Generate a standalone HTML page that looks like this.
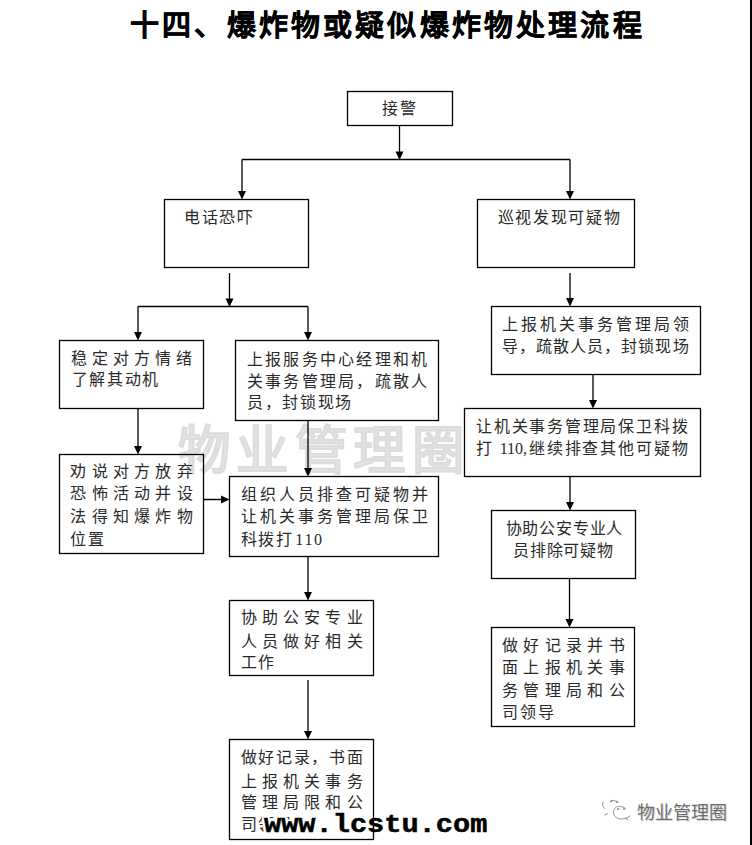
<!DOCTYPE html>
<html lang="zh-CN">
<head>
<meta charset="utf-8">
<style>
html,body{margin:0;padding:0;background:#fff;}
body{width:752px;height:845px;position:relative;overflow:hidden;font-family:"Liberation Serif",serif;color:#2a2a2a;}
.t{position:absolute;font-size:16px;line-height:16px;white-space:nowrap;}
.j{text-align:justify;text-align-last:justify;}
svg{position:absolute;left:0;top:0;z-index:2;}
.title{position:absolute;left:130px;top:9.5px;font-family:"Liberation Sans",sans-serif;font-weight:bold;font-size:29px;line-height:32px;letter-spacing:3.17px;color:#000;white-space:nowrap;-webkit-text-stroke:0.3px #000;}
.wm{position:absolute;left:177.5px;top:425px;font-family:"Liberation Sans",sans-serif;font-weight:normal;font-size:52.5px;line-height:52.5px;letter-spacing:5.5px;color:#e3e3e3;-webkit-text-stroke:2.2px #dcdcdc;white-space:nowrap;}
.url{position:absolute;z-index:1;-webkit-text-stroke:0.5px #000;left:264px;top:812.5px;text-shadow:2px 0 0 #fff,-2px 0 0 #fff,0 2px 0 #fff,0 -2px 0 #fff,2px 2px 0 #fff,-2px -2px 0 #fff,2px -2px 0 #fff,-2px 2px 0 #fff;font-family:"Liberation Mono",monospace;font-weight:bold;font-size:25px;line-height:25px;color:#000;white-space:nowrap;transform:scaleX(1.145);transform-origin:0 0;}
.edge{position:absolute;left:750px;top:0;width:2px;height:845px;background:#000;}
.brand{position:absolute;left:637px;top:804px;font-family:"Liberation Sans",sans-serif;font-size:18px;line-height:18px;color:#6e6e6e;text-shadow:1px 1px 0 #d8d8d8;white-space:nowrap;}
</style>
</head>
<body>
<div class="title">十四、爆炸物或疑似爆炸物处理流程</div>
<div class="wm">物业管理圈</div>

<svg width="752" height="845" viewBox="0 0 752 845">
<g fill="none" stroke="#000" stroke-width="1.3">
<rect x="347.5" y="91.5" width="105" height="34"/>
<rect x="164.5" y="199.5" width="144" height="68"/>
<rect x="477.5" y="199.5" width="157" height="68"/>
<rect x="59.5" y="340.5" width="144" height="68"/>
<rect x="235.5" y="340.5" width="203" height="80"/>
<rect x="59.5" y="454.5" width="144" height="99"/>
<rect x="229.5" y="476.5" width="209" height="80"/>
<rect x="229.5" y="600.5" width="144" height="75"/>
<rect x="229.5" y="739.5" width="144" height="100"/>
<rect x="491.5" y="306.5" width="209" height="68"/>
<rect x="464.5" y="408.5" width="236" height="68"/>
<rect x="491.5" y="510.5" width="144" height="68"/>
<rect x="491.5" y="627.5" width="143" height="99"/>
<path d="M399.5 125V152.5 M242 159.5V192 M570 159.5V192 M229.5 273V299.5 M138 306.5V333 M308 306.5V333 M138 408V447 M308 420V469 M308 556V593 M308 680V732 M570 273V299 M593 374V401 M570 476V503 M569.5 578V620 M242 159.5H570 M138 306.5H308 M203 499.5H222"/>
</g><g fill="#000">
<path d="M395.5 151.5L403.5 151.5L399.5 160.0Z"/>
<path d="M238 191L246 191L242 199.5Z"/>
<path d="M566 191L574 191L570 199.5Z"/>
<path d="M225.5 298.5L233.5 298.5L229.5 307.0Z"/>
<path d="M134 332L142 332L138 340.5Z"/>
<path d="M304 332L312 332L308 340.5Z"/>
<path d="M134 446L142 446L138 454.5Z"/>
<path d="M304 468L312 468L308 476.5Z"/>
<path d="M304 592L312 592L308 600.5Z"/>
<path d="M304 731L312 731L308 739.5Z"/>
<path d="M566 298L574 298L570 306.5Z"/>
<path d="M589 400L597 400L593 408.5Z"/>
<path d="M566 502L574 502L570 510.5Z"/>
<path d="M565.5 619L573.5 619L569.5 627.5Z"/>
<path d="M221 495.5L221 503.5L229.5 499.5Z"/>
</g></svg>
<div class="t" style="left:382.0px;top:101.0px;letter-spacing:1.9px;">接警</div>
<div class="t" style="left:184.0px;top:210.0px;letter-spacing:1.7px;">电话恐吓</div>
<div class="t" style="left:497.5px;top:210.0px;letter-spacing:1.7px;">巡视发现可疑物</div>
<div class="t j" style="left:70.5px;top:351.0px;width:121.1px;">稳定对方情绪</div>
<div class="t" style="left:71.5px;top:372.0px;letter-spacing:1.7px;">了解其动机</div>
<div class="t j" style="left:247.0px;top:351.5px;width:180.0px;">上报服务中心经理和机</div>
<div class="t j" style="left:247.0px;top:373.5px;width:180.0px;">关事务管理局，疏散人</div>
<div class="t" style="left:247.0px;top:395.0px;letter-spacing:1.7px;">员，封锁现场</div>
<div class="t j" style="left:70.4px;top:463.8px;width:122.2px;">劝说对方放弃</div>
<div class="t j" style="left:70.4px;top:486.4px;width:122.2px;">恐怖活动并设</div>
<div class="t j" style="left:70.4px;top:509.0px;width:122.2px;">法得知爆炸物</div>
<div class="t" style="left:70.4px;top:531.6px;letter-spacing:1.7px;">位置</div>
<div class="t j" style="left:240.7px;top:487.0px;width:187.3px;">组织人员排查可疑物并</div>
<div class="t j" style="left:240.7px;top:509.0px;width:187.3px;">让机关事务管理局保卫</div>
<div class="t" style="left:240.7px;top:531.5px;letter-spacing:1.7px;">科拨打<span style="letter-spacing:-2.5px"> </span>110</div>
<div class="t j" style="left:240.6px;top:610.3px;width:122.0px;">协助公安专业</div>
<div class="t j" style="left:240.6px;top:634.3px;width:122.0px;">人员做好相关</div>
<div class="t" style="left:240.6px;top:655.0px;letter-spacing:1.7px;">工作</div>
<div class="t j" style="left:240.6px;top:750.0px;width:122.0px;">做好记录，书面</div>
<div class="t j" style="left:240.6px;top:774.0px;width:122.0px;">上报机关事务</div>
<div class="t j" style="left:240.6px;top:795.0px;width:122.0px;">管理局限和公</div>
<div class="t" style="left:240.6px;top:817.0px;letter-spacing:1.7px;">司领导</div>
<div class="t j" style="left:502.0px;top:317.0px;width:186.5px;">上报机关事务管理局领</div>
<div class="t j" style="left:502.0px;top:339.0px;width:186.5px;">导，疏散人员，封锁现场</div>
<div class="t j" style="left:476.0px;top:419.0px;width:211.5px;">让机关事务管理局保卫科拨</div>
<div class="t j" style="left:476.0px;top:440.5px;width:211.5px;">打 110,继续排查其他可疑物</div>
<div class="t" style="left:564.1px;top:520.8px;width:200px;margin-left:-100px;text-align:center;letter-spacing:0.8px;text-indent:0.8px">协助公安专业人</div>
<div class="t" style="left:563.1px;top:543.0px;width:200px;margin-left:-100px;text-align:center;letter-spacing:0.8px;text-indent:0.8px">员排除可疑物</div>
<div class="t j" style="left:502.2px;top:637.5px;width:122.4px;">做好记录并书</div>
<div class="t j" style="left:502.2px;top:660.0px;width:122.4px;">面上报机关事</div>
<div class="t j" style="left:502.2px;top:682.5px;width:122.4px;">务管理局和公</div>
<div class="t" style="left:502.2px;top:704.5px;letter-spacing:1.7px;">司领导</div>
<div class="url">www.lcstu.com</div>
<svg width="40" height="30" viewBox="0 0 40 30" style="left:598px;top:797px;"><g fill="none" stroke="#8a8a8a" stroke-width="0.9" stroke-linecap="round"><path d="M6.5 11.5 Q3 8 5 5 M13 3.5 Q16 2.5 20 5 M9.5 16.5 L6.5 18"/><path d="M27 11 Q21 8 17.5 10.5 Q15 13 15.5 17 Q17.5 22 24 22 Q29 22 32 19"/><circle cx="13" cy="4.5" r="0.7"/><circle cx="19" cy="5" r="0.7"/><circle cx="20" cy="12" r="0.7"/><circle cx="26" cy="12" r="0.7"/><path d="M29.5 23 L28.5 21"/></g></svg>
<div class="brand">物业管理圈</div>
<div class="edge"></div>
</body>
</html>
